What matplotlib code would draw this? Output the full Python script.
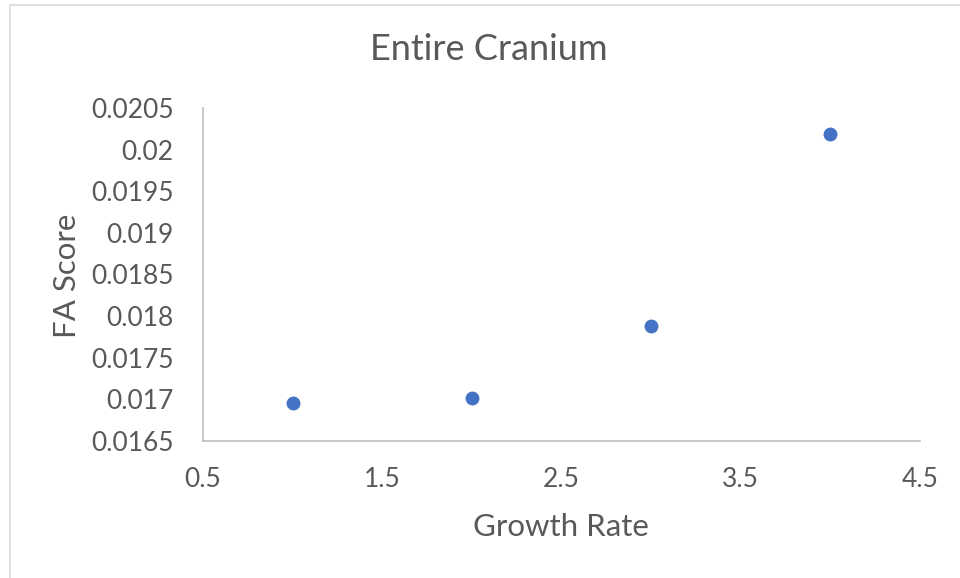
import matplotlib
matplotlib.use("Agg")
import matplotlib.pyplot as plt
from matplotlib.patches import Rectangle

growth_rate = [1, 2, 3, 4]
fa_score = [0.016957, 0.017017, 0.017885, 0.020190]
x_ticks = [0.5, 1.5, 2.5, 3.5, 4.5]
y_ticks = [0.0165, 0.017, 0.0175, 0.018, 0.0185, 0.019, 0.0195, 0.02, 0.0205]
y_tick_labels = ["0.0165", "0.017", "0.0175", "0.018", "0.0185", "0.019", "0.0195", "0.02", "0.0205"]

plt.rcParams['font.family'] = ['Lato', 'DejaVu Sans']
txt = '#595959'

fig = plt.figure(figsize=(9.6, 5.78), dpi=100)
fig.patches.append(Rectangle((9.5/960, -0.1), 1.2, 1.1 - 5.5/578, transform=fig.transFigure,
                             fill=False, edgecolor='#D9D9D9', linewidth=1.2))
ax = fig.add_axes([203/960, 1-441/578, (920-203)/960, (441-108)/578])
ax.scatter(growth_rate, fa_score, s=100, color='#4472C4', zorder=3, linewidths=0)
ax.set_xlim(0.5, 4.5)
ax.set_ylim(0.0165, 0.0205)
ax.set_xticks(x_ticks)
ax.set_xticklabels([str(v) for v in x_ticks])
ax.set_yticks(y_ticks)
ax.set_yticklabels(y_tick_labels)
for s in ['top', 'right']:
    ax.spines[s].set_visible(False)
for s in ['left', 'bottom']:
    ax.spines[s].set_color('#BFBFBF')
    ax.spines[s].set_linewidth(1.2)
ax.tick_params(length=0, labelsize=19, labelcolor=txt)
ax.tick_params(axis='x', pad=18.5)
ax.tick_params(axis='y', pad=21)
fig.text(561/960, 1-527/578, 'Growth Rate', fontsize=22.5, color=txt, ha='center', va='center')
fig.text(67/960, 1-276/578, 'FA Score', fontsize=22.5, color=txt, ha='center', va='center', rotation=90)
fig.text(489/960, 1-50/578, 'Entire Cranium', fontsize=26, color=txt, ha='center', va='center')
fig.savefig('out.png', dpi=100, facecolor='white')
